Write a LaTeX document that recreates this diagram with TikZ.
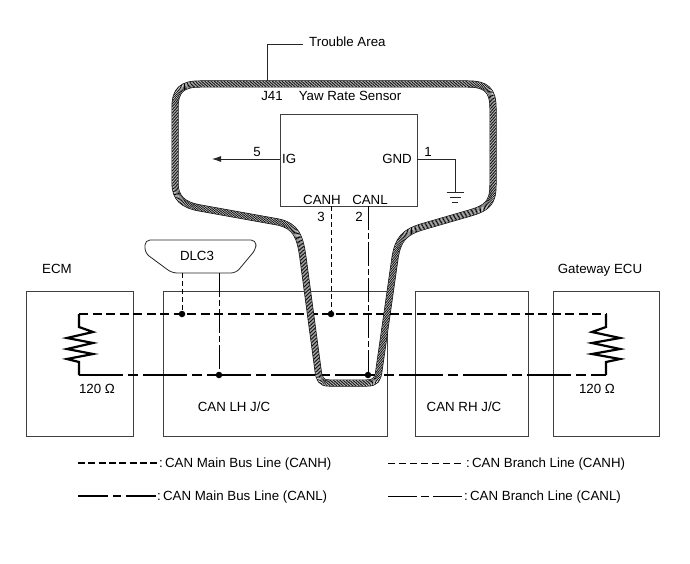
\documentclass[tikz,border=0pt]{standalone}
\usepackage{fontspec}
\setmainfont{Liberation Sans}
\usetikzlibrary{arrows.meta,decorations.markings}
\begin{document}
\begin{tikzpicture}[x=1pt,y=-1pt,
  box/.style={draw=black!75,line width=0.8pt,inner sep=0pt,anchor=north west},
  mainH/.style={line width=2.4pt,dash pattern=on 9pt off 4.5pt},
  mainL/.style={line width=2.4pt,dash pattern=on 44pt off 5pt on 10pt off 5pt},
  brH/.style={line width=0.7pt,dash pattern=on 5pt off 3pt},
  brL/.style={line width=0.7pt,dash pattern=on 24pt off 3pt on 6pt off 3pt},
  wire/.style={line width=0.8pt,draw=black!85},
  res/.style={line width=2.2pt,line join=miter},
  jdot/.style={circle,fill=black,inner sep=0pt,minimum size=6.5pt},
  lbl/.style={inner sep=0pt,text height=9.4pt,text depth=0pt,font=\fontsize{13.3}{15}\selectfont},
  band/.style={draw=black,line width=0.7pt,double=white,double distance=5.6pt},
  hatchmarks/.style={decorate,decoration={markings,mark=between positions 0 and 1 step 1.45pt with {\draw[line width=0.65pt] (-1.5pt,-2.9pt)--(1.5pt,2.9pt);}}}
]
\useasboundingbox[fill=white] (0,0) rectangle (690,564);

% boxes
\node[box,minimum width=107pt,minimum height=145pt] (ecm) at (26,291) {};
\node[box,minimum width=224pt,minimum height=145pt] (lh) at (163,291) {};
\node[box,minimum width=113pt,minimum height=145pt] (rh) at (415,291) {};
\node[box,minimum width=106pt,minimum height=145pt] (gw) at (553,291) {};
\node[box,minimum width=137pt,minimum height=92pt] (yaw) at (280,114) {};

% coordinates
\coordinate (hL) at (79,314); \coordinate (hR) at (606,314);
\coordinate (lL) at (79,375); \coordinate (lR) at (606,375);
\node[jdot] (jh1) at (182,314) {};
\node[jdot] (jh2) at (331,314) {};
\node[jdot] (jl1) at (219,375) {};
\node[jdot] (jl2) at (368,375) {};

% main bus lines
\draw[mainH] (hL) -- (hR);
\draw[mainL] (lL) -- (lR);

% resistors
\draw[res] (hL) -- (79,327) -- (93,332) -- (67,338) -- (93,343) -- (67,349) -- (93,354) -- (67,359) -- (79,362) -- (lL);
\draw[res] (hR) -- (606,327) -- (592,332) -- (620,338) -- (592,343) -- (620,349) -- (592,354) -- (620,359) -- (606,362) -- (lR);

% DLC3
\draw[wire,rounded corners=5pt] (200,240) -- (256,240) -- (256,249) -- (236,273) -- (172,273) -- (145,253) -- (145,240) -- cycle;
\node[lbl] (dlc) at (197,256) {DLC3};
\coordinate (d1) at (182,273); \coordinate (d2) at (219,273);
\draw[brH] (d1) -- (jh1);
\draw[brL] (d2) -- (jl1);

% sensor branches
\coordinate (s3) at (331,206); \coordinate (s2) at (368,206);
\draw[brH] (s3) -- (jh2);
\draw[brL] (s2) -- (jl2);

% IG
\coordinate (igW) at (280,159); \coordinate (igEnd) at (212,159);
\draw[wire,-{Latex[length=9pt,width=6pt]}] (igW) -- (igEnd);
% GND
\coordinate (gndA) at (417,159); \coordinate (gndB) at (455,192);
\draw[wire] (gndA) -| (gndB);
\draw[wire] (446.5,192) -- (463.5,192);
\draw[wire] (449.5,197.3) -- (460.5,197.3);
\draw[wire] (452,202.5) -- (458,202.5);

% trouble area outline
\draw[band] (300,84) -- (468,84) .. controls (486,84) and (493,90) .. (493,108) -- (493,185) .. controls (493,203) and (487,208) .. (470,213) -- (425,226) .. controls (403,232) and (398,240) .. (395,258) -- (379,370) .. controls (378,379) and (376,383) .. (367,383) -- (329,383) .. controls (321,383) and (319,379) .. (318,370) -- (303,258) .. controls (300,236) and (296,226) .. (278,222) -- (200,208) .. controls (183,205) and (175,198) .. (175,183) -- (175,108) .. controls (175,90) and (182,84) .. (200,84) -- cycle;
\path[hatchmarks] (300,84) -- (468,84) .. controls (486,84) and (493,90) .. (493,108) -- (493,185) .. controls (493,203) and (487,208) .. (470,213) -- (425,226) .. controls (403,232) and (398,240) .. (395,258) -- (379,370) .. controls (378,379) and (376,383) .. (367,383) -- (329,383) .. controls (321,383) and (319,379) .. (318,370) -- (303,258) .. controls (300,236) and (296,226) .. (278,222) -- (200,208) .. controls (183,205) and (175,198) .. (175,183) -- (175,108) .. controls (175,90) and (182,84) .. (200,84) -- cycle;

% leader
\coordinate (ta) at (303,44); \coordinate (taB) at (267,81);
\draw[wire] (ta) -| (taB);
\node[lbl,anchor=west] (tatext) at (309,42) {Trouble Area};

% labels
\node[lbl] (j41) at (272,96) {J41};
\node[lbl] (yawt) at (350,96) {Yaw Rate Sensor};
\node[lbl] (p5) at (257,152) {5};
\node[lbl,anchor=west] (ig) at (282,159) {IG};
\node[lbl,anchor=east] (gnd) at (412,159) {GND};
\node[lbl] (p1) at (428,152) {1};
\node[lbl] (canh) at (322,200) {CANH};
\node[lbl] (canl) at (370,200) {CANL};
\node[lbl] (p3) at (321,217) {3};
\node[lbl] (p2) at (359,217) {2};
\node[lbl] (ecmt) at (57,269) {ECM};
\node[lbl] (gwt) at (600,269) {Gateway ECU};
\node[lbl] (r1) at (97,389) {120 Ω};
\node[lbl] (r2) at (597,389) {120 Ω};
\node[lbl] (lht) at (234,407) {CAN LH J/C};
\node[lbl] (rht) at (464,407) {CAN RH J/C};

% legend
\coordinate (la1) at (78,463); \coordinate (la2) at (158,463);
\coordinate (lb1) at (388,463); \coordinate (lb2) at (465,463);
\coordinate (lc1) at (78,496); \coordinate (lc2) at (156,496);
\coordinate (ld1) at (388,496); \coordinate (ld2) at (463,496);
\draw[line width=2.4pt,dash pattern=on 7pt off 3.3pt] (la1) -- (la2);
\draw[line width=0.7pt,dash pattern=on 7pt off 4pt] (lb1) -- (lb2);
\draw[line width=2.4pt,dash pattern=on 30pt off 5pt on 8pt off 5pt] (lc1) -- (lc2);
\draw[line width=0.7pt,dash pattern=on 29pt off 4pt on 8pt off 4pt] (ld1) -- (ld2);
\node[lbl,anchor=west] (t1) at (159,463) {:\,CAN Main Bus Line (CANH)};
\node[lbl,anchor=west] (t2) at (466,463) {:\,CAN Branch Line (CANH)};
\node[lbl,anchor=west] (t3) at (157,496) {:\,CAN Main Bus Line (CANL)};
\node[lbl,anchor=west] (t4) at (464,496) {:\,CAN Branch Line (CANL)};
\end{tikzpicture}
\end{document}
